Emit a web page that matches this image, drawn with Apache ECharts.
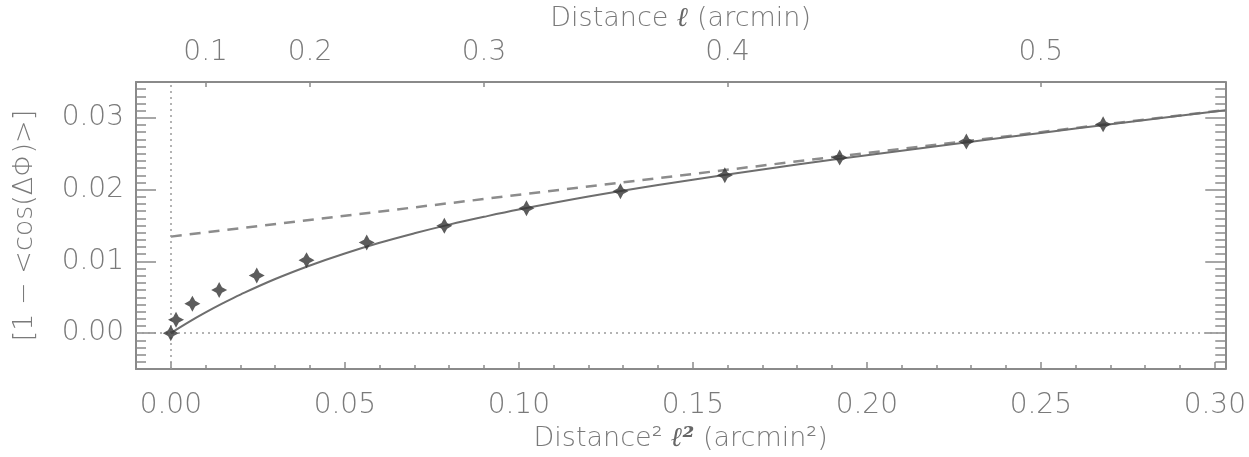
<!DOCTYPE html>
<html>
<head>
<meta charset="utf-8">
<script src="https://cdn.jsdelivr.net/npm/echarts@6/dist/echarts.min.js"></script>
<style>
html,body{margin:0;padding:0;background:#fff;}
#chart{width:1249px;height:457px;}
</style>
</head>
<body>
<div id="chart"></div>
<script>
// ---- data ----
const distSq = [0.0000, 0.0015, 0.0062, 0.0139, 0.0247, 0.0390, 0.0563, 0.0786, 0.1022, 0.1292, 0.1592, 0.1922, 0.2286, 0.2679];
const dispersion = [0.0000, 0.00187, 0.00411, 0.00602, 0.00803, 0.01017, 0.01264, 0.01495, 0.0174, 0.01977, 0.0220, 0.02446, 0.02669, 0.0291];
const fitX = [0, 0.005, 0.01, 0.015, 0.02, 0.03, 0.04, 0.05, 0.06, 0.07, 0.08, 0.09, 0.10, 0.12, 0.14, 0.16, 0.18, 0.20, 0.22, 0.24, 0.26, 0.28, 0.303];
const fitY = [0, 0.0015, 0.00288, 0.00417, 0.00537, 0.00754, 0.00943, 0.0111, 0.01259, 0.01391, 0.01512, 0.01621, 0.01722, 0.01903, 0.02064, 0.02211, 0.02349, 0.02479, 0.02606, 0.02729, 0.02851, 0.0297, 0.03107];
const largeScaleX = [0, 0.303];
const largeScaleY = [0.01345, 0.0311];
const bottomTicks = [0, 0.05, 0.10, 0.15, 0.20, 0.25, 0.30];
const topTickLabels = [0.1, 0.2, 0.3, 0.4, 0.5];
const leftTicks = [0, 0.01, 0.02, 0.03];

const X_MIN = -0.01, X_MAX = 0.303, Y_MIN = -0.005, Y_MAX = 0.035;
const topTicks = topTickLabels.map(v => +(v * v).toFixed(4));
const minorX = [];
for (let i = -1; i <= 30; i++) { if (i % 5 !== 0) minorX.push(+(i * 0.01).toFixed(3)); }
const minorY = [];
for (let i = -4; i <= 34; i++) { if (i % 10 !== 0) minorY.push(+(i * 0.001).toFixed(4)); }

const FONT = 'DejaVu Sans';
const TXT = '#7a7a7a';
const AX = '#8a8a8a';
const labelStyle = { color: TXT, fontFamily: FONT, fontSize: 28, fontWeight: 200 };

function zip(a, b) { return a.map((v, i) => [v, b[i]]); }

const chart = echarts.init(document.getElementById('chart'), null, { renderer: 'canvas' });
const axisBase = { type: 'value', splitLine: { show: false } };
const lineOn = { show: true, onZero: false, lineStyle: { color: AX, width: 2 } };
const lineOff = { show: false, onZero: false };

chart.setOption({
  animation: false,
  backgroundColor: '#fff',
  grid: { left: 136, right: 23, top: 70, bottom: 88, containLabel: false },
  xAxis: [
    Object.assign({}, axisBase, {
      position: 'bottom', min: X_MIN, max: X_MAX,
      axisLine: lineOn,
      axisTick: { show: true, inside: true, length: 7, customValues: bottomTicks, lineStyle: { color: AX, width: 1.5 } },
      axisLabel: Object.assign({ customValues: bottomTicks, margin: 23, formatter: v => v.toFixed(2) }, labelStyle),
      name: 'Distance² {l|ℓ²} (arcmin²)', nameLocation: 'middle', nameGap: 56,
      nameTextStyle: Object.assign({}, labelStyle, { fontSize: 27, rich: { l: { fontFamily: 'DejaVu Serif', fontStyle: 'italic', fontWeight: 'bold', fontSize: 27, color: '#666' } } })
    }),
    Object.assign({}, axisBase, {
      position: 'bottom', min: X_MIN, max: X_MAX,
      axisLine: lineOff,
      axisTick: { show: true, inside: true, length: 4, customValues: minorX, lineStyle: { color: AX, width: 1.5 } },
      axisLabel: { show: false }
    }),
    Object.assign({}, axisBase, {
      position: 'top', min: X_MIN, max: X_MAX,
      axisLine: lineOn,
      axisTick: { show: true, inside: true, length: 5, customValues: topTicks, lineStyle: { color: AX, width: 1.5 } },
      axisLabel: Object.assign({ customValues: topTicks, margin: 15, formatter: v => Math.sqrt(v).toFixed(1) }, labelStyle),
      name: 'Distance {l|ℓ} (arcmin)', nameLocation: 'middle', nameGap: 50,
      nameTextStyle: Object.assign({}, labelStyle, { fontSize: 27, rich: { l: { fontFamily: 'DejaVu Serif', fontStyle: 'italic', fontWeight: 'bold', fontSize: 27, color: '#666' } } })
    })
  ],
  yAxis: [
    Object.assign({}, axisBase, {
      position: 'left', min: Y_MIN, max: Y_MAX,
      axisLine: lineOn,
      axisTick: { show: true, inside: true, length: 20, customValues: leftTicks, lineStyle: { color: AX, width: 1.5 } },
      axisLabel: Object.assign({ customValues: leftTicks, margin: 12, formatter: v => v.toFixed(2) }, labelStyle),
      name: '[1 − <cos(ΔΦ)>]', nameLocation: 'middle', nameGap: 98, nameRotate: 90,
      nameTextStyle: Object.assign({}, labelStyle, { fontSize: 27 })
    }),
    Object.assign({}, axisBase, {
      position: 'left', min: Y_MIN, max: Y_MAX,
      axisLine: lineOff,
      axisTick: { show: true, inside: true, length: 10, customValues: minorY, lineStyle: { color: AX, width: 1.5 } },
      axisLabel: { show: false }
    }),
    Object.assign({}, axisBase, {
      position: 'right', min: Y_MIN, max: Y_MAX,
      axisLine: lineOn,
      axisTick: { show: true, inside: true, length: 20, customValues: leftTicks, lineStyle: { color: AX, width: 1.5 } },
      axisLabel: { show: false }
    }),
    Object.assign({}, axisBase, {
      position: 'right', min: Y_MIN, max: Y_MAX,
      axisLine: lineOff,
      axisTick: { show: true, inside: true, length: 10, customValues: minorY, lineStyle: { color: AX, width: 1.5 } },
      axisLabel: { show: false }
    })
  ],
  series: [
    {
      type: 'line', name: 'large-scale', data: zip(largeScaleX, largeScaleY), showSymbol: false, symbol: 'none',
      lineStyle: { color: '#8c8c8c', width: 2.5, type: [11, 8] }, z: 2,
      markLine: {
        silent: true, symbol: 'none', label: { show: false },
        lineStyle: { color: '#9a9a9a', width: 1.5, type: [2, 4] },
        data: [{ xAxis: 0 }, { yAxis: 0 }]
      }
    },
    {
      type: 'line', name: 'fit', data: zip(fitX, fitY), showSymbol: false, symbol: 'none', smooth: 0.4,
      lineStyle: { color: '#6e6e6e', width: 2 }, z: 3
    },
    {
      type: 'scatter', name: 'data', data: zip(distSq, dispersion),
      symbol: 'path://M0,-10 L3.5,-3.5 L10,0 L3.5,3.5 L0,10 L-3.5,3.5 L-10,0 L-3.5,-3.5 Z',
      symbolSize: 16, itemStyle: { color: '#333' }, z: 5
    }
  ]
});
</script>
</body>
</html>
